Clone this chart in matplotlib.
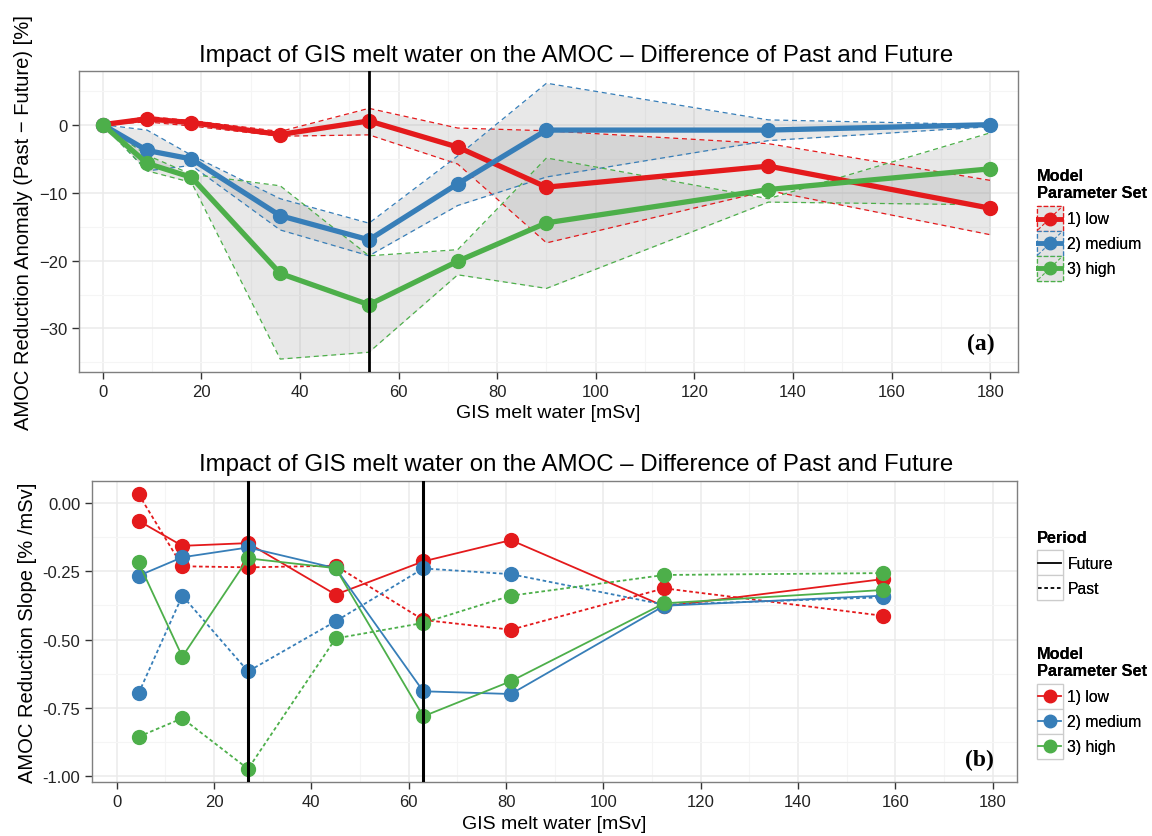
import matplotlib.pyplot as plt
from matplotlib.patches import Rectangle
from matplotlib.lines import Line2D
import numpy as np

plt.rcParams['font.family'] = ['Liberation Sans', 'DejaVu Sans']

# Colours (ColorBrewer Set1)
colors = ['#E41A1C', '#377EB8', '#4DAF4A']
set_names = ['1) low', '2) medium', '3) high']

# ---- panel (a) data ----
melt_a = [0, 9, 18, 36, 54, 72, 90, 135, 180]
mean_low = [0, 0.85, 0.3, -1.45, 0.55, -3.3, -9.2, -6.1, -12.3]
mean_med = [0, -3.8, -5.05, -13.4, -16.95, -8.7, -0.8, -0.8, 0.0]
mean_high = [0, -5.7, -7.75, -21.9, -26.5, -20.1, -14.45, -9.55, -6.5]
upper_low = [0, 1.2, 0.6, -1.0, 2.4, -0.5, -0.9, -2.8, -8.2]
lower_low = [0, 0.4, -0.2, -1.7, -1.5, -5.8, -17.4, -9.7, -16.2]
upper_med = [0, -0.8, -4.5, -10.9, -14.5, -4.6, 6.1, 0.7, 0.0]
lower_med = [0, -6.8, -6.0, -15.5, -19.3, -11.9, -7.7, -2.35, -0.3]
upper_high = [0, -4.5, -7.3, -9.0, -19.3, -18.4, -4.9, -10.9, -1.2]
lower_high = [0, -6.8, -8.5, -34.5, -33.5, -22.1, -24.1, -11.4, -11.8]
vline_a = [54]

# ---- panel (b) data ----
melt_b = [4.5, 13.5, 27, 45, 63, 81, 112.5, 157.5]
fut_low = [-0.064, -0.156, -0.146, -0.335, -0.213, -0.135, -0.378, -0.278]
past_low = [0.034, -0.231, -0.235, -0.229, -0.428, -0.464, -0.312, -0.413]
fut_med = [-0.266, -0.198, -0.162, -0.238, -0.690, -0.700, -0.376, -0.339]
past_med = [-0.698, -0.339, -0.617, -0.433, -0.239, -0.260, -0.372, -0.345]
fut_high = [-0.217, -0.563, -0.202, -0.238, -0.782, -0.653, -0.367, -0.318]
past_high = [-0.857, -0.789, -0.975, -0.496, -0.439, -0.339, -0.263, -0.256]
vline_b = [27, 63]

title = 'Impact of GIS melt water on the AMOC \u2013 Difference of Past and Future'
dotted = (0, (2, 1.5))


class Key:
    # ggplot-like legend key: box + line (+ point)
    def __init__(self, color, lw, ls='-', marker=None, face='white',
                 edge='#cccccc', edge_ls='-', slash=False):
        self.color = color
        self.lw = lw
        self.ls = ls
        self.marker = marker
        self.face = face
        self.edge = edge
        self.edge_ls = edge_ls
        self.slash = slash


class KeyHandler:
    def legend_artist(self, legend, key, fontsize, handlebox):
        x0 = -handlebox.xdescent
        y0 = -handlebox.ydescent
        w, h = handlebox.width, handlebox.height
        tr = handlebox.get_transform()
        rect = Rectangle((x0, y0), w, h, facecolor=key.face, edgecolor=key.edge,
                         linestyle=key.edge_ls, linewidth=0.9, transform=tr)
        handlebox.add_artist(rect)
        yc = y0 + h / 2
        if key.slash:
            handlebox.add_artist(Line2D([x0 + 1, x0 + w - 1], [y0 + 1, y0 + h - 1],
                                        color=key.color, lw=0.8, ls=(0, (3, 2)),
                                        transform=tr))
        handlebox.add_artist(Line2D([x0 + 1, x0 + w - 1], [yc, yc], color=key.color,
                                    lw=key.lw, ls=key.ls, transform=tr))
        if key.marker:
            handlebox.add_artist(Line2D([x0 + w / 2], [yc], color=key.color,
                                        marker=key.marker, markersize=9,
                                        ls='none', transform=tr))
        return rect


def style_axes(ax, xminor, yminor):
    # theme_bw look
    ax.set_facecolor('white')
    for s in ax.spines.values():
        s.set_color('#7f7f7f')
        s.set_linewidth(1.0)
    ax.set_xticks(xminor, minor=True)
    ax.set_yticks(yminor, minor=True)
    ax.grid(which='major', color='#ebebeb', linewidth=1.1, zorder=0)
    ax.grid(which='minor', color='#f5f5f5', linewidth=0.8, zorder=0)
    ax.set_axisbelow(True)
    ax.tick_params(which='major', direction='out', length=5, width=1.0,
                   color='#333333', labelsize=12, labelcolor='#222222')
    ax.tick_params(which='minor', length=0)


def make_legend(fig, handles, labels, title_txt, y):
    leg = fig.legend(handles, labels, title=title_txt,
                     loc='upper left', bbox_to_anchor=(0.9, y),
                     frameon=False, fontsize=11.3, handlelength=1.65,
                     handleheight=2.07, handletextpad=0.3, labelspacing=0.0,
                     borderpad=0, borderaxespad=0,
                     handler_map={Key: KeyHandler()})
    leg.get_title().set_fontweight('bold')
    leg.get_title().set_fontsize(11.8)
    leg._legend_box.align = 'left'
    leg._legend_box.sep = 4   # gap between title and keys
    fig.add_artist(leg)
    return leg


def main():
    fig = plt.figure(figsize=(11.52, 8.37), dpi=100)

    # ---------------- panel (a) ----------------
    ax1 = fig.add_axes([0.0686, 0.5544, 0.815, 0.3596])
    means = [mean_low, mean_med, mean_high]
    uppers = [upper_low, upper_med, upper_high]
    lowers = [lower_low, lower_med, lower_high]
    for i in range(3):
        ax1.fill_between(melt_a, lowers[i], uppers[i], color='#8c8c8c',
                         alpha=0.2, linewidth=0, zorder=1)
    for i in range(3):
        ax1.plot(melt_a, uppers[i], color=colors[i], lw=0.9, ls=(0, (4, 3)), zorder=2)
        ax1.plot(melt_a, lowers[i], color=colors[i], lw=0.9, ls=(0, (4, 3)), zorder=2)
    for i in range(3):
        ax1.plot(melt_a, means[i], color=colors[i], lw=3.8, marker='o',
                 markersize=10, zorder=4)
    for v in vline_a:
        ax1.axvline(v, color='black', lw=2.0, zorder=5)

    style_axes(ax1, np.arange(10, 181, 20), [5, -5, -15, -25, -35])
    ax1.set_xticks(np.arange(0, 181, 20))
    ax1.set_yticks([0, -10, -20, -30])
    ax1.set_xlim(-4.8, 185.6)
    ax1.set_ylim(-36.4, 7.9)
    # title is centred on the whole figure (ggplot style)
    fig.text(0.5, 1 - 62 / 837, title, fontsize=17.3, ha='center', va='baseline')
    ax1.set_xlabel('GIS melt water [mSv]', fontsize=14, labelpad=4)
    ax1.set_ylabel('AMOC Reduction Anomaly (Past \u2212 Future) [%]', fontsize=14.5)
    ax1.text(0.975, 0.06, '(a)', transform=ax1.transAxes, ha='right', va='bottom',
             fontsize=17, fontweight='bold', family='Liberation Serif')

    handles_a = [Key(c, 3.5, marker='o', face='#e3e3e3', edge=c, edge_ls='--', slash=True)
                 for c in colors]
    make_legend(fig, handles_a, set_names, 'Model\nParameter Set', 0.798)

    # ---------------- panel (b) ----------------
    ax2 = fig.add_axes([0.0801, 0.0642, 0.8024, 0.3596])
    futs = [fut_low, fut_med, fut_high]
    pasts = [past_low, past_med, past_high]
    for i in range(3):
        ax2.plot(melt_b, pasts[i], color=colors[i], lw=1.3, ls=dotted,
                 marker='o', markersize=10, zorder=3)
        ax2.plot(melt_b, futs[i], color=colors[i], lw=1.3, ls='-',
                 marker='o', markersize=10, zorder=3)
    for v in vline_b:
        ax2.axvline(v, color='black', lw=2.2, zorder=5)

    style_axes(ax2, np.arange(-10, 181, 20), [0.125, -0.125, -0.375, -0.625, -0.875])
    ax2.set_xticks(np.arange(0, 181, 20))
    ax2.set_yticks([0, -0.25, -0.5, -0.75, -1.0])
    ax2.set_yticklabels(['0.00', '-0.25', '-0.50', '-0.75', '-1.00'])
    ax2.set_xlim(-5.0, 184.9)
    ax2.set_ylim(-1.024, 0.081)
    fig.text(0.5, 1 - 471 / 837, title, fontsize=17.3, ha='center', va='baseline')
    ax2.set_xlabel('GIS melt water [mSv]', fontsize=14, labelpad=4)
    ax2.set_ylabel('AMOC Reduction Slope [% /mSv]', fontsize=14.5)
    ax2.text(0.975, 0.04, '(b)', transform=ax2.transAxes, ha='right', va='bottom',
             fontsize=17, fontweight='bold', family='Liberation Serif')

    # period legend
    period_handles = [Key('black', 1.3, ls='-'), Key('black', 1.3, ls=dotted)]
    make_legend(fig, period_handles, ['Future', 'Past'], 'Period', 0.366)

    set_handles = [Key(c, 1.3, marker='o') for c in colors]
    make_legend(fig, set_handles, set_names, 'Model\nParameter Set', 0.227)

    fig.savefig('out.png', dpi=100)


if __name__ == '__main__':
    main()
